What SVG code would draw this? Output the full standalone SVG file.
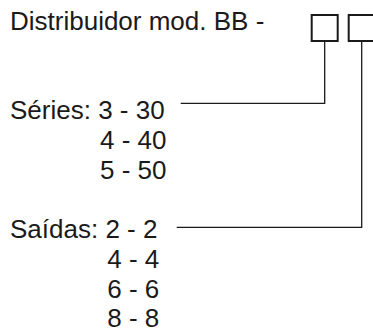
<svg xmlns="http://www.w3.org/2000/svg" width="373" height="331" viewBox="0 0 373 331">
<style>
text{font-family:"Liberation Sans",Arial,sans-serif;font-size:26px;fill:#1a1a1a}
.box{fill:#fff;stroke:#1a1a1a;stroke-width:2}
.con{fill:none;stroke:#1a1a1a;stroke-width:1.3}
</style>
<rect width="373" height="331" fill="#fff"/>
<g id="title"><text x="10" y="30">Distribuidor mod. BB -</text></g>
<g id="box-series"><rect class="box" x="311.7" y="15" width="26" height="26"/></g>
<g id="box-saidas"><rect class="box" x="348.7" y="15" width="26" height="26"/></g>
<g id="series">
<text x="10" y="118.5">Séries: 3 - 30</text>
<text x="100" y="148.5">4 - 40</text>
<text x="100" y="178.5">5 - 50</text>
</g>
<g id="saidas">
<text x="10" y="238.3">Saídas: 2 - 2</text>
<text x="107.3" y="268">4 - 4</text>
<text x="107.3" y="297.5">6 - 6</text>
<text x="107.3" y="327">8 - 8</text>
</g>
<g id="connectors">
<polyline class="con" points="180.7,103.3 324.7,103.3 324.7,42"/>
<polyline class="con" points="176.7,227.3 361.7,227.3 361.7,42"/>
</g>
</svg>
